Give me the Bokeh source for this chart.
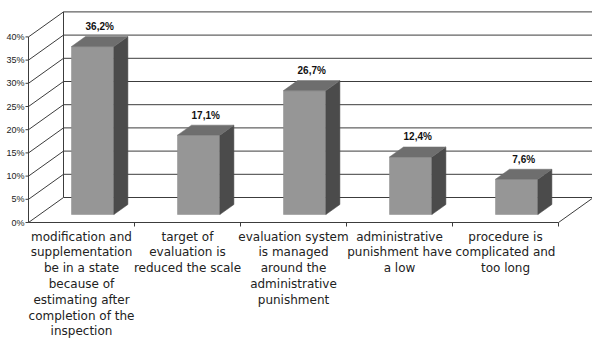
from bokeh.plotting import figure
from bokeh.models import Range1d, ColumnDataSource
from bokeh.core.properties import value
from bokeh.embed import file_html
from bokeh.resources import INLINE

# ---- data ----
categories = [
    "modification and\nsupplementation\nbe in a state\nbecause of\nestimating after\ncompletion of the\ninspection",
    "target of\nevaluation is\nreduced the scale",
    "evaluation system\nis managed\naround the\nadministrative\npunishment",
    "administrative\npunishment have\na low",
    "procedure is\ncomplicated and\ntoo long",
]
values = [36.2, 17.1, 26.7, 12.4, 7.6]
value_labels = ["36,2%", "17,1%", "26,7%", "12,4%", "7,6%"]
y_ticks = [0, 5, 10, 15, 20, 25, 30, 35, 40]
y_tick_labels = ["0%", "5%", "10%", "15%", "20%", "25%", "30%", "35%", "40%"]

# ---- layout constants (pixel -> data) ----
W, H = 592, 338
PXX = 106.0      # px per category
PXY = 4.64       # px per percent
X0, Y0 = 28.0, 222.0
DX = 35.0 / PXX  # depth offset in category units
DY = 25.0 / PXY  # depth offset in percent units
F0, F1 = 0.32, 0.72
BW = 0.40
YMAX = 40
n = len(categories)

p = figure(width=W, height=H, output_backend="svg", toolbar_location=None,
           x_axis_type=None, y_axis_type=None, min_border=0,
           x_range=Range1d(-X0 / PXX, (W - X0) / PXX),
           y_range=Range1d(-(H - Y0) / PXY, Y0 / PXY))
p.outline_line_color = None
p.xgrid.visible = False
p.ygrid.visible = False
p.background_fill_color = "white"
p.border_fill_color = "white"

GRID = "#3c3c3c"
# back wall horizontal gridlines
p.segment(x0=[DX] * len(y_ticks), y0=[t + DY for t in y_ticks],
          x1=[n + DX + 0.1] * len(y_ticks), y1=[t + DY for t in y_ticks],
          line_color=GRID, line_width=1)
# left wall diagonals
p.segment(x0=[0] * len(y_ticks), y0=y_ticks,
          x1=[DX] * len(y_ticks), y1=[t + DY for t in y_ticks],
          line_color=GRID, line_width=1)
# back wall left vertical, front axis line
p.segment(x0=[DX, 0], y0=[DY, 0], x1=[DX, 0], y1=[YMAX + DY, YMAX],
          line_color=GRID, line_width=1)
# floor front edge and right diagonal
p.segment(x0=[0, n], y0=[0, 0], x1=[n, n + DX], y1=[0, DY],
          line_color=GRID, line_width=1)
# y ticks
p.segment(x0=[-3 / PXX] * len(y_ticks), y0=y_ticks, x1=[0] * len(y_ticks), y1=y_ticks,
          line_color=GRID, line_width=1)
# x ticks at category boundaries
bx = list(range(1, n + 1))
p.segment(x0=bx, y0=[0] * n, x1=bx, y1=[-4 / PXY] * n, line_color=GRID, line_width=1)

# ---- 3D bars ----
fx, fy, sx, sy, tx, ty = [], [], [], [], [], []
ddx, ddy = (F1 - F0) * DX, (F1 - F0) * DY
for i, v in enumerate(values):
    xl = i + 0.5 - BW / 2 + F0 * DX
    xr = xl + BW
    yb = F0 * DY
    yt = v + F0 * DY
    fx.append([xl, xr, xr, xl]); fy.append([yb, yb, yt, yt])
    sx.append([xr, xr + ddx, xr + ddx, xr]); sy.append([yb, yb + ddy, yt + ddy, yt])
    tx.append([xl, xr, xr + ddx, xl + ddx]); ty.append([yt, yt, yt + ddy, yt + ddy])

p.patches(fx, fy, fill_color="#969696", line_color="#8c8c8c", line_width=0.5)
p.patches(sx, sy, fill_color="#4b4b4b", line_color="#4b4b4b", line_width=0.5)
p.patches(tx, ty, fill_color="#6e6e6e", line_color="#6e6e6e", line_width=0.5)

# ---- value labels ----
lab = ColumnDataSource(dict(
    x=[i + 0.5 + (F0 + F1) / 2 * DX for i in range(n)],
    y=[v + F1 * DY + 10 / PXY for v in values],
    t=value_labels))
p.text(x="x", y="y", text="t", source=lab, text_align="center", text_baseline="middle",
       text_font=value("Liberation Sans"), text_font_size="10px", text_font_style="bold",
       text_color="#111111")

# ---- y tick labels ----
yl = ColumnDataSource(dict(x=[-4 / PXX] * len(y_ticks), y=y_ticks, t=y_tick_labels))
p.text(x="x", y="y", text="t", source=yl, text_align="right", text_baseline="middle",
       text_font=value("Liberation Sans"), text_font_size="9px", text_color="#222222")

# ---- category labels ----
cl = ColumnDataSource(dict(x=[i + 0.5 for i in range(n)], y=[-7 / PXY] * n, t=categories))
p.text(x="x", y="y", text="t", source=cl, text_align="center", text_baseline="top",
       text_font=value("DejaVu Sans"), text_font_size="12px", text_line_height=1.13,
       text_color="#222222")

open("out.html", "w").write(file_html(p, INLINE))
